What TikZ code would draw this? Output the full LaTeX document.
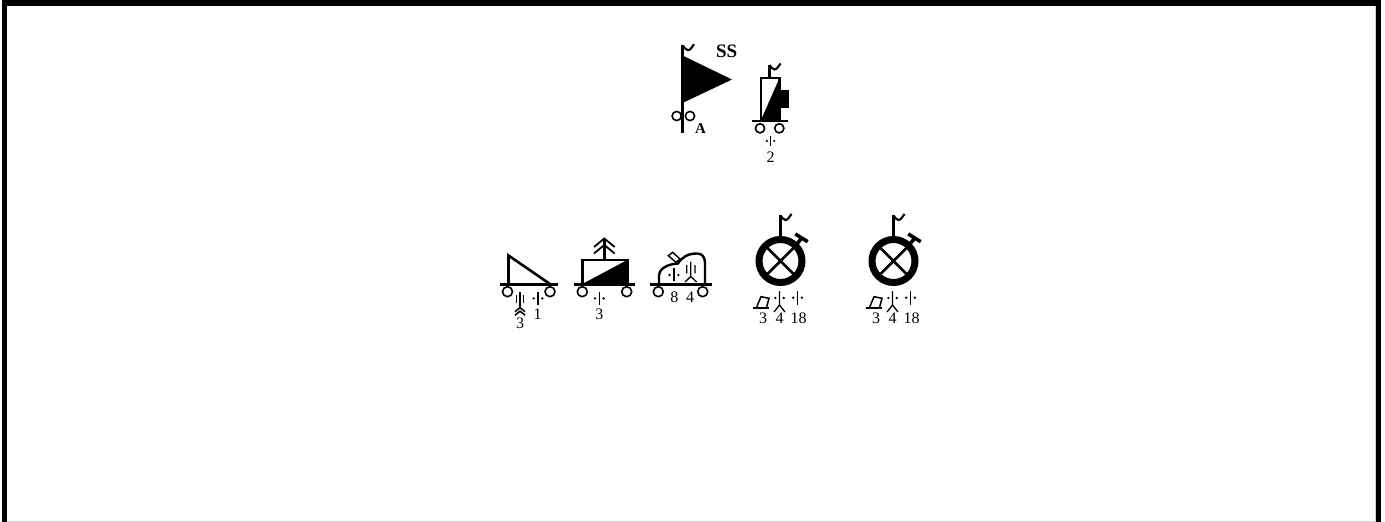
\documentclass[tikz,border=0pt]{standalone}
\usepackage{fontspec}
\setmainfont{Liberation Serif}
\tikzset{
  x=1pt,y=-1pt,
  thick line/.style={line width=2.4pt,line cap=butt},
  thin line/.style={line width=1.3pt,line cap=butt},
  wheel/.style={line width=1.6pt,draw=black,fill=white},
  numlabel/.style={inner sep=0pt,font=\fontsize{16}{16}\selectfont},
  boldlabel/.style={inner sep=0pt,font=\fontsize{19}{19}\selectfont\bfseries},
  pennant/.pic={\draw[line width=2.1pt] (0,0) .. controls (1.5,2) and (3,4.5) .. (5,4.5) .. controls (7.5,4.5) and (9,1) .. (11,-1.5);},
  dotline/.pic={
    \draw[thin line] (0,0) -- (0,13.5);
    \fill (-4.3,6.7) circle (1.3) (4.3,6.7) circle (1.3);},
  forkline/.pic={
    \draw[thin line] (0,0) -- (0,14) (0,14) -- (-5.5,21) (0,14) -- (5.5,21);
    \fill (-4.2,7) circle (1.3) (4.2,7) circle (1.3);},
  chevron/.pic={\draw[line width=1.5pt] (-5,4) -- (0,0) -- (5,4);},
  wheelunit/.pic={
    \draw[line width=7pt] (0,0) circle (21.5);
    \draw[line width=2.8pt] (-15.5,-15.5) -- (15.5,15.5) (15.5,-15.5) -- (-15.5,15.5);
    \draw[line width=2.6pt] (0,-24) -- (0,-46);
    \pic at (0,-45.5) {pennant};
    \draw[line width=3.6pt] (16.2,-17) -- (21.2,-22.7);
    \draw[line width=3.6pt] (14.8,-27) -- (27.2,-19.3);
    \draw[line width=2pt] (-28,46.5) -- (-11.5,46.5);
    \draw[line width=1.5pt] (-24,46.5) -- (-19.5,35.7) -- (-11.5,37.3) -- (-14,46.5);
    \pic at (-1,30) {forkline};
    \pic at (17,30) {dotline};
    \node[numlabel] (\pgfkeysvalueof{/tikz/unitname}a) at (-17.5,57) {3};
    \node[numlabel] (\pgfkeysvalueof{/tikz/unitname}b) at (-1,57) {4};
    \node[numlabel] (\pgfkeysvalueof{/tikz/unitname}c) at (18,57) {18};
  },
  unitname/.initial=u
}
\begin{document}
\begin{tikzpicture}
\useasboundingbox (0,0) rectangle (1385,522);
\fill[white] (0,0) rectangle (1385,522);
% frame
\fill[black] (1.5,0) rectangle (1381,6);
\fill[black] (1.5,0) rectangle (7,522);
\fill[black] (1375.7,0) rectangle (1381,522);
\fill[gray!35] (1374.7,6) rectangle (1375.7,522);
\fill[gray!35] (7,520.6) rectangle (1375.7,522);

% flag unit
\draw[line width=2.6pt] (682.5,45) -- (682.5,133);
\pic at (683,45.7) {pennant};
\fill (682.5,55.5) -- (732,79.5) -- (682.5,103) -- cycle;
\draw[wheel,fill=none] (676.7,116) circle (4.6) (690,116) circle (4.6);
\node[boldlabel] (ss) at (726.7,51) {SS};
\node[inner sep=0pt,font=\fontsize{15}{15}\selectfont\bfseries] (a) at (700.5,129) {A};

% tall vehicle
\draw[line width=2.6pt] (769.5,78) -- (769.5,65);
\pic at (769.5,65) {pennant};
\fill (761,120) -- (779.5,78) -- (779.5,120) -- cycle;
\fill (779.5,90) rectangle (788.7,108.3);
\draw[line width=2.4pt] (761,120) -- (761,78) -- (779.5,78) -- (779.5,120);
\draw[thick line] (751.7,120.8) -- (787.7,120.8);
\draw[wheel] (760,128.3) circle (4.6) (779.3,128.3) circle (4.6);
\draw[thin line] (770.5,136) -- (770.5,146);
\fill (766.8,141) circle (1.2) (774.2,141) circle (1.2);
\node[numlabel] (n2) at (770.5,157) {2};

% triangle vehicle
\draw[line width=2.6pt,line join=miter] (550,284) -- (508.5,255.5) -- (508.5,284);
\draw[thick line] (500,284.5) -- (558,284.5);
\draw[wheel] (507.5,291.7) circle (5) (550,291.7) circle (5);
\draw[thin line] (520,291.7) -- (520,307) (516.7,295) -- (516.7,303.3) (523.3,295) -- (523.3,303.3);
\pic at (520,307.7) {chevron};
\pic at (520,311.2) {chevron};
\node[numlabel] (n3a) at (520,323) {3};
\pic at (538,291.7) {dotline};
\node[numlabel] (n1) at (537.5,314.5) {1};

% box vehicle
\fill (582.3,284) -- (627.3,260) -- (627.3,284) -- cycle;
\draw[line width=2.4pt] (582.5,284) -- (582.5,260) -- (627.3,260) -- (627.3,284);
\draw[line width=2.4pt] (604.3,260) -- (604.3,239);
\draw[line width=1.8pt] (594,247) -- (604.3,238.5) -- (614.7,247) (594,253.5) -- (604.3,245) -- (614.7,253.5);
\draw[thick line] (574,284.5) -- (635,284.5);
\draw[wheel] (582.3,291.7) circle (5) (626.7,291.7) circle (5);
\pic at (599.3,291.7) {dotline};
\node[numlabel] (n3b) at (599.3,314) {3};

% dome vehicle
\draw[line width=2.4pt] (659,284) -- (659,275) .. controls (659,270) and (666,264) .. (678,263.5) .. controls (682,257) and (688,253.5) .. (697,253.5) .. controls (702,253.5) and (705,257) .. (705,263) -- (705,284);
\draw[line width=1.4pt,fill=white] (672.7,252.3) -- (680,259) -- (676,262.3) -- (668.3,255.7) -- cycle;
\draw[thick line] (650,284.5) -- (711.7,284.5);
\draw[wheel] (658.3,291.7) circle (5) (702.7,291.7) circle (5);
\draw[thin line] (674,268.3) -- (674,281);
\fill (669.5,275) circle (1.3) (678.3,275) circle (1.3);
\draw[thin line] (690.7,261.7) -- (690.7,276.5) -- (685,282) (690.7,276.5) -- (696.7,282) (686.7,265) -- (686.7,273.3) (695,265) -- (695,273.3);
\node[numlabel] (n8) at (674.3,297) {8};
\node[numlabel] (n4) at (690,297) {4};

% wheeled circle units
\pic[unitname=l] at (780.5,261) {wheelunit};
\pic[unitname=r] at (893.5,261) {wheelunit};
\end{tikzpicture}
\end{document}
